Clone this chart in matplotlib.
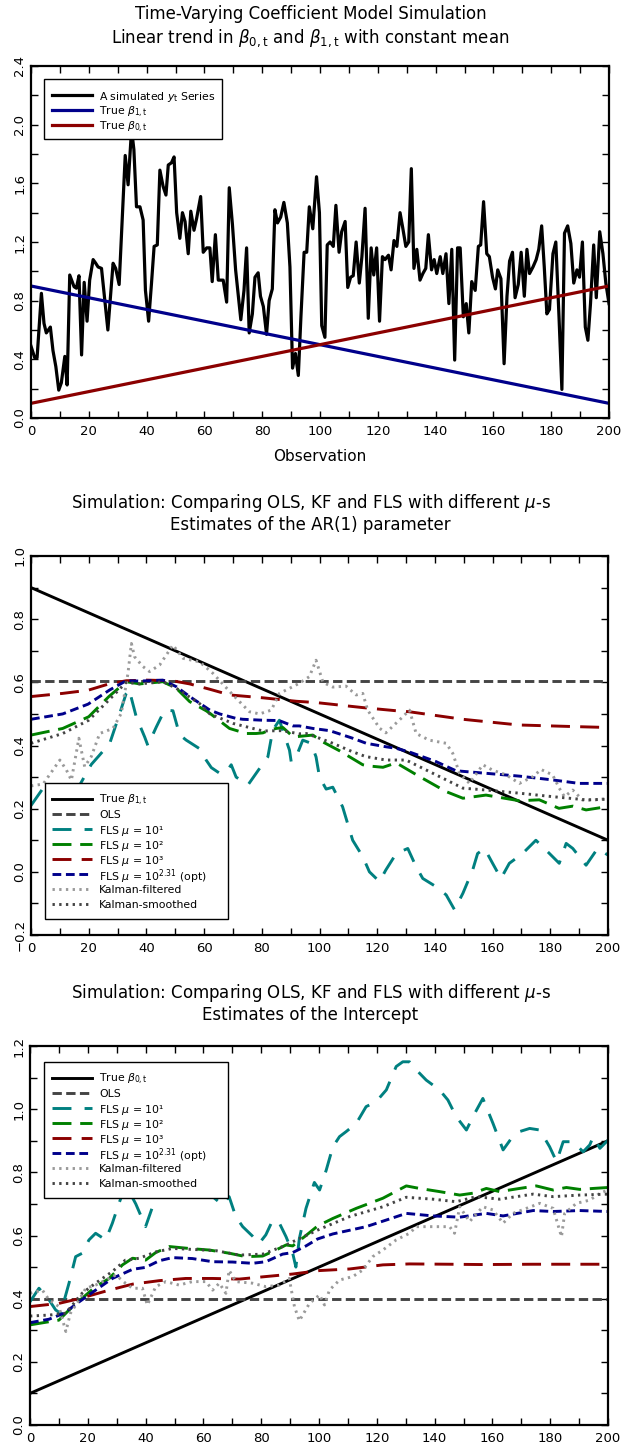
import matplotlib
matplotlib.use("Agg")
import matplotlib.pyplot as plt
from matplotlib.ticker import MultipleLocator
from matplotlib.patches import Rectangle
from matplotlib.lines import Line2D

# ---- panel 1: simulated series and true coefficients ----
yt_obs = [0, 1.3, 2.1, 3.6, 4.5, 5.3, 6.7, 7.6, 8.6, 9.6, 10.5, 11.7, 12.5, 13.4, 14.9, 15.7,
          16.6, 17.5, 18.4, 19.4, 20.3, 21.5, 22.4, 23.2, 24.4, 26.6, 28.4, 29.3, 30.5, 32.6,
          33.6, 34.8, 35.6, 36.5, 37.7, 38.8, 39.6, 40.7, 41.7, 42.6, 43.7, 44.6, 45.7, 46.7,
          47.5, 48.6, 49.5, 50.4, 51.5, 52.4, 53.3, 54.4, 55.3, 56.4, 57.3, 58.7, 59.6, 60.8,
          61.9, 62.7, 63.8, 64.8, 66.5, 67.7, 68.6, 69.7, 70.8, 71.7, 72.6, 73.7, 74.6, 75.5,
          76.6, 77.5, 78.6, 79.4, 80.4, 81.5, 82.4, 83.5, 84.4, 85.3, 86.4, 87.5, 88.7, 89.6,
          90.5, 91.5, 92.5, 93.4, 94.5, 95.4, 96.3, 97.5, 98.8, 99.8, 100.6, 101.7, 102.5,
          103.5, 104.6, 105.5, 106.6, 107.5, 108.7, 109.6, 110.6, 111.5, 112.5, 113.6, 114.5,
          115.6, 116.7, 117.7, 118.6, 119.6, 120.6, 121.6, 122.5, 123.7, 124.6, 125.6, 126.6,
          127.7, 128.6, 129.7, 130.7, 131.6, 132.5, 133.5, 134.6, 135.6, 136.6, 137.5, 138.6,
          139.5, 140.4, 141.6, 142.5, 143.6, 144.6, 145.6, 146.6, 147.6, 148.5, 149.6, 150.6,
          151.5, 152.5, 153.7, 154.8, 155.6, 156.6, 157.7, 158.6, 159.7, 160.7, 161.5, 162.6,
          163.7, 164.7, 165.6, 166.6, 167.5, 168.6, 169.6, 170.7, 171.6, 172.5, 173.7, 174.8,
          175.7, 176.7, 177.6, 178.5, 179.4, 180.6, 181.6, 182.7, 183.7, 184.6, 185.7, 186.8,
          187.8, 188.9, 189.8, 190.8, 191.8, 192.7, 193.6, 194.7, 195.6, 196.8, 197.9, 198.9, 200]
yt_val = [0.49, 0.41, 0.41, 0.85, 0.645, 0.58, 0.62, 0.46, 0.35, 0.19, 0.24, 0.42, 0.225, 0.975,
          0.895, 0.885, 0.97, 0.43, 0.925, 0.66, 0.94, 1.08, 1.055, 1.03, 1.02, 0.60, 1.055,
          1.02, 0.91, 1.79, 1.59, 1.97, 1.83, 1.44, 1.44, 1.35, 0.87, 0.66, 0.92, 1.17, 1.18,
          1.69, 1.58, 1.52, 1.725, 1.74, 1.78, 1.40, 1.225, 1.40, 1.34, 1.12, 1.41, 1.28, 1.36,
          1.51, 1.13, 1.16, 1.16, 0.93, 1.25, 0.94, 0.94, 0.79, 1.57, 1.32, 1.01, 0.84, 0.67,
          0.87, 1.16, 0.58, 0.71, 0.96, 0.99, 0.83, 0.76, 0.57, 0.80, 0.88, 1.42, 1.33, 1.37,
          1.47, 1.33, 1.03, 0.34, 0.44, 0.29, 0.69, 1.13, 1.13, 1.44, 1.29, 1.645, 1.40, 0.63,
          0.55, 1.18, 1.20, 1.17, 1.45, 1.13, 1.27, 1.34, 0.89, 0.96, 0.97, 1.20, 0.92, 1.10,
          1.43, 0.68, 1.16, 0.975, 1.16, 0.66, 1.10, 1.08, 1.11, 1.01, 1.21, 1.17, 1.40, 1.30,
          1.17, 1.20, 1.70, 1.02, 1.15, 0.94, 0.985, 1.02, 1.25, 1.01, 1.08, 0.985, 1.10, 0.985,
          1.12, 0.78, 1.15, 0.395, 1.16, 1.16, 0.69, 0.78, 0.58, 0.93, 0.87, 1.17, 1.18, 1.475,
          1.12, 1.10, 0.96, 0.88, 1.01, 0.95, 0.37, 0.83, 1.07, 1.13, 0.82, 0.91, 1.13, 0.83,
          1.15, 0.985, 1.03, 1.08, 1.15, 1.31, 1.03, 0.71, 0.74, 1.12, 1.20, 0.69, 0.195, 1.26,
          1.31, 1.19, 0.92, 1.01, 0.96, 1.20, 0.62, 0.53, 0.78, 1.18, 0.82, 1.27, 1.12, 0.92, 0.78]
trend_obs = [0, 200]
beta1_true = [0.9, 0.1]
beta0_true = [0.1, 0.9]

# ---- panel 2: AR(1) parameter estimates ----
ar_ols = 0.605
ar_f1_obs = [0, 4.2, 8, 12, 15, 17.2, 20.9, 23.8, 27.3, 30.2, 33, 34, 36.5, 39.4, 40.5, 43.4, 46.3,
             49.2, 51.5, 53.8, 55, 58.4, 60.7, 62.5, 65.4, 67.7, 69.4, 71.1, 75.2, 79.2, 82.1,
             83.8, 86.1, 89.6, 90.2, 91.9, 94.2, 97.1, 98.8, 100, 102.3, 104.6, 108, 111.5, 115,
             117.3, 120.8, 123, 126.6, 130.6, 133.5, 135.8, 140.4, 143.9, 146.8, 149.7, 153.1,
             154.8, 157.2, 160, 162.9, 165.8, 170.4, 175, 178.5, 183.1, 185.5, 187.8, 192.4,
             196.4, 200]
ar_f1_val = [0.21, 0.265, 0.23, 0.21, 0.24, 0.28, 0.34, 0.37, 0.407, 0.486, 0.565, 0.578, 0.49,
             0.427, 0.40, 0.458, 0.512, 0.51, 0.434, 0.417, 0.41, 0.39, 0.354, 0.33, 0.312, 0.317,
             0.339, 0.30, 0.275, 0.327, 0.364, 0.449, 0.48, 0.385, 0.348, 0.364, 0.417, 0.407,
             0.364, 0.30, 0.262, 0.268, 0.206, 0.10, 0.048, 0.0, -0.031, 0.006, 0.058, 0.074,
             0.016, -0.021, -0.047, -0.073, -0.12, -0.068, 0.006, 0.058, 0.074, 0.027, -0.021,
             0.027, 0.058, 0.10, 0.069, 0.027, 0.09, 0.074, 0.021, 0.074, 0.053]
ar_f2_obs = [0, 11, 20, 27, 33, 37.7, 45.7, 50.4, 55, 60.7, 62, 68.8, 74.6, 78, 80.4, 82.7, 85,
             87.3, 90.8, 92, 97.7, 101, 107, 115, 117.3, 122, 126.6, 134.6, 143.9, 149.7, 157.7,
             169.3, 176.2, 183, 187.8, 192.4, 198, 200]
ar_f2_val = [0.433, 0.454, 0.491, 0.555, 0.602, 0.595, 0.602, 0.581, 0.539, 0.51, 0.502, 0.454,
             0.438, 0.438, 0.44, 0.449, 0.454, 0.457, 0.428, 0.428, 0.433, 0.412, 0.383, 0.339,
             0.335, 0.331, 0.345, 0.302, 0.254, 0.233, 0.243, 0.225, 0.228, 0.201, 0.208, 0.196,
             0.204, 0.205]
ar_f3_obs = [0, 11, 19.8, 27, 33, 40, 49, 55, 62, 69, 80.4, 92, 98.8, 115, 126.6, 131, 149.7,
             169, 187.8, 200]
ar_f3_val = [0.555, 0.565, 0.575, 0.595, 0.605, 0.607, 0.605, 0.595, 0.578, 0.56, 0.551, 0.54,
             0.536, 0.52, 0.51, 0.507, 0.483, 0.465, 0.46, 0.457]
ar_opt_obs = [0, 11, 19.8, 27.3, 33, 37.7, 45.7, 50.4, 55, 62, 65.4, 71, 73.4, 80.4, 86, 90.8,
              93, 97.7, 103.5, 111.5, 116.2, 123, 126.6, 131, 140.4, 147.3, 157.7, 169.3, 180.8,
              190, 200]
ar_opt_val = [0.483, 0.50, 0.531, 0.576, 0.605, 0.604, 0.607, 0.586, 0.555, 0.512, 0.5, 0.486,
              0.483, 0.48, 0.479, 0.462, 0.462, 0.454, 0.447, 0.423, 0.407, 0.396, 0.391, 0.38,
              0.349, 0.32, 0.312, 0.303, 0.291, 0.28, 0.28]
ar_kf_obs = [0, 4.2, 10, 12.3, 14, 16.6, 18.6, 20.9, 23.8, 28.4, 31.3, 33.6, 34.8, 35.9, 38.8,
             41.1, 44.6, 49.2, 52.7, 58.4, 63, 70, 75.7, 79.2, 83.3, 86.1, 89.6, 93, 96.5, 98.8,
             101.2, 104.6, 109.2, 112.7, 115, 116.7, 120.8, 123, 128.3, 131.2, 133.5, 138, 143.9,
             146.2, 148.5, 152, 156.6, 160, 164.7, 169.3, 173.9, 176.8, 180.8, 183.1, 184.9,
             187.8, 191.2, 194.7, 200]
ar_kf_val = [0.272, 0.278, 0.354, 0.322, 0.29, 0.423, 0.333, 0.365, 0.438, 0.454, 0.502, 0.628,
             0.723, 0.681, 0.65, 0.634, 0.655, 0.718, 0.676, 0.665, 0.629, 0.56, 0.507, 0.50,
             0.512, 0.565, 0.581, 0.597, 0.618, 0.67, 0.6, 0.585, 0.588, 0.56, 0.565, 0.512,
             0.455, 0.44, 0.486, 0.512, 0.438, 0.417, 0.407, 0.375, 0.312, 0.28, 0.339, 0.322,
             0.307, 0.28, 0.301, 0.324, 0.307, 0.265, 0.238, 0.259, 0.227, 0.227, 0.232]
ar_ks_obs = [0, 11, 20, 27, 33, 37.7, 45.7, 50.4, 58.4, 62, 70, 80.4, 87, 93, 95.4, 100, 104.6,
             111.5, 116, 123, 130, 140.4, 149.7, 157.7, 169.3, 180.8, 192.4, 200]
ar_ks_val = [0.407, 0.438, 0.48, 0.544, 0.60, 0.595, 0.602, 0.581, 0.533, 0.50, 0.47, 0.446,
             0.447, 0.437, 0.438, 0.423, 0.407, 0.38, 0.365, 0.354, 0.354, 0.307, 0.265, 0.259,
             0.249, 0.238, 0.228, 0.23]

# ---- panel 3: intercept estimates ----
ic_ols = 0.40
ic_f1_obs = [0, 3.1, 6.6, 8.9, 10.6, 13.5, 15.8, 18.1, 20.4, 22.7, 26.2, 28.5, 30.8, 33.1, 36.6,
             40, 42.4, 44.7, 47, 52, 58, 63.2, 66.6, 68.9, 71.2, 73.6, 77, 79.3, 81.6, 84, 86.3,
             88.6, 90.9, 92, 93.2, 95.5, 98.4, 100.2, 102.5, 104.8, 107.1, 109.4, 112.9, 116.3,
             119.8, 123.3, 126.7, 129, 131.3, 133.7, 137.1, 141.7, 144.6, 147.5, 151, 153.9,
             156.7, 160.2, 163.7, 166.6, 169.4, 172.9, 176.4, 179.8, 182.2, 184.5, 187.9, 191.4,
             193.7, 194.9, 197.2, 200]
ic_f1_val = [0.39, 0.433, 0.396, 0.364, 0.354, 0.449, 0.533, 0.544, 0.586, 0.607, 0.586, 0.639,
             0.702, 0.76, 0.70, 0.628, 0.691, 0.744, 0.78, 0.80, 0.76, 0.723, 0.697, 0.723, 0.66,
             0.628, 0.598, 0.575, 0.602, 0.649, 0.639, 0.596, 0.544, 0.50, 0.59, 0.686, 0.768,
             0.744, 0.807, 0.881, 0.913, 0.929, 0.955, 1.008, 1.024, 1.061, 1.135, 1.15, 1.15,
             1.124, 1.092, 1.061, 1.029, 0.976, 0.934, 0.987, 1.034, 0.955, 0.871, 0.908, 0.929,
             0.939, 0.934, 0.881, 0.834, 0.897, 0.897, 0.865, 0.887, 0.913, 0.876, 0.902]
ic_f2_obs = [0, 6.6, 10, 13.5, 18, 22.7, 27.4, 32, 35.5, 40, 43.5, 48.2, 55, 62, 68.9, 74.7, 80.5,
             85.1, 88.6, 90.9, 95.5, 99.5, 104.8, 112.9, 122.1, 130.2, 134.8, 141.7, 148.7,
             153.3, 157.9, 162.5, 169.4, 175.2, 181, 185.6, 190.2, 194.9, 200]
ic_f2_val = [0.317, 0.327, 0.332, 0.364, 0.401, 0.438, 0.464, 0.507, 0.528, 0.522, 0.546, 0.565,
             0.559, 0.554, 0.544, 0.533, 0.535, 0.554, 0.57, 0.567, 0.6, 0.63, 0.654, 0.686,
             0.718, 0.757, 0.749, 0.739, 0.728, 0.734, 0.749, 0.739, 0.749, 0.757, 0.744, 0.752,
             0.746, 0.749, 0.752]
ic_f3_obs = [0, 10, 17, 27.4, 35.5, 44.7, 53.9, 63.2, 72.4, 81.6, 90.9, 100.2, 110.6, 122.1,
             131.3, 145.2, 156.7, 174, 200]
ic_f3_val = [0.375, 0.385, 0.40, 0.427, 0.446, 0.457, 0.464, 0.464, 0.462, 0.47, 0.478, 0.489,
             0.494, 0.507, 0.51, 0.509, 0.508, 0.509, 0.509]
ic_opt_obs = [0, 6.6, 11.8, 17, 22.7, 28.5, 35.5, 40, 44.7, 49.3, 56.2, 63.2, 70.1, 77, 81.6,
              87.4, 90.9, 95.5, 99.5, 104.8, 116.3, 123.3, 130.2, 139.4, 148.7, 157.9, 163.7,
              174.1, 181, 190.2, 200]
ic_opt_val = [0.324, 0.335, 0.354, 0.39, 0.427, 0.464, 0.493, 0.499, 0.52, 0.53, 0.527, 0.517,
              0.516, 0.512, 0.517, 0.541, 0.546, 0.567, 0.589, 0.605, 0.628, 0.649, 0.67, 0.662,
              0.658, 0.67, 0.662, 0.679, 0.676, 0.679, 0.676]
ic_kf_obs = [0, 4.3, 6.6, 10, 12.4, 14, 17, 19.3, 22.7, 26.2, 29.7, 33, 35.5, 38.9, 40.6, 43.5,
             47, 51.6, 56.2, 60.9, 63.2, 65.5, 67.8, 68.9, 71.2, 77, 81.6, 86.3, 89.7, 91.5, 93.2,
             96.7, 100.2, 101.9, 103.6, 107.1, 111.7, 115.2, 118.6, 122.1, 126.7, 131.3, 133.7,
             139.4, 145.2, 146.9, 148.7, 152.1, 156.7, 160.2, 163.7, 167.1, 171.8, 176.4, 181,
             183.9, 185, 189.1, 193.7, 197.2, 200]
ic_kf_val = [0.417, 0.427, 0.396, 0.375, 0.296, 0.354, 0.396, 0.433, 0.443, 0.459, 0.475, 0.449,
             0.433, 0.433, 0.38, 0.438, 0.454, 0.443, 0.454, 0.454, 0.427, 0.449, 0.417, 0.49,
             0.454, 0.449, 0.438, 0.443, 0.464, 0.375, 0.33, 0.385, 0.412, 0.38, 0.427, 0.459,
             0.47, 0.491, 0.533, 0.554, 0.586, 0.607, 0.628, 0.628, 0.628, 0.607, 0.691, 0.644,
             0.691, 0.681, 0.639, 0.67, 0.686, 0.702, 0.686, 0.596, 0.67, 0.702, 0.712, 0.734,
             0.744]
ic_ks_obs = [0, 6.6, 12.4, 18, 22.7, 28.5, 33, 37.8, 43.5, 49.3, 56.2, 64.3, 72.4, 80.5, 87.4,
             93.2, 100.2, 110.6, 122.1, 130.2, 139.4, 147.5, 154.4, 162.5, 174.1, 181, 190.2, 200]
ic_ks_val = [0.345, 0.348, 0.354, 0.417, 0.449, 0.486, 0.522, 0.528, 0.548, 0.559, 0.556, 0.552,
             0.538, 0.541, 0.565, 0.59, 0.62, 0.66, 0.691, 0.721, 0.715, 0.707, 0.723, 0.715,
             0.731, 0.723, 0.728, 0.731]

# colori e stili
C_TEAL = "#008080"
C_GREEN = "#008000"
C_RED = "#8b0000"
C_NAVY = "#00008b"
C_OLS = "#444444"
C_KF = "#9a9a9a"
C_KS = "#444444"
LW = 2.1

STY_TRUE = dict(color='black', lw=LW)
STY_OLS = dict(color=C_OLS, lw=LW, ls=(0, (3.2, 1.5)))
STY_F1 = dict(color=C_TEAL, lw=LW, ls=(0, (6.5, 4.5)))
STY_F2 = dict(color=C_GREEN, lw=LW, ls=(0, (6.5, 3.0)))
STY_F3 = dict(color=C_RED, lw=LW, ls=(0, (6.5, 3.5)))
STY_OPT = dict(color=C_NAVY, lw=LW, ls=(0, (3.0, 1.6)))
STY_KF = dict(color=C_KF, lw=LW, ls=(0, (0.8, 1.5)))
STY_KS = dict(color=C_KS, lw=LW, ls=(0, (0.8, 1.5)))

plt.rcParams['font.family'] = ['DejaVu Sans']
plt.rcParams['mathtext.fontset'] = 'dejavusans'

fig = plt.figure(figsize=(6.21, 14.48), dpi=100)
W, H = 621.0, 1448.0


def make_axes(top_px, bottom_px, left_px=31, right_px=609):
    return fig.add_axes([left_px / W, 1 - bottom_px / H,
                         (right_px - left_px) / W, (bottom_px - top_px) / H])


def style_axes(ax, ymin, ymax, ymaj, ymin_step):
    ax.set_xlim(0, 200)
    ax.set_ylim(ymin, ymax)
    ax.xaxis.set_major_locator(MultipleLocator(20))
    ax.xaxis.set_minor_locator(MultipleLocator(10))
    ax.yaxis.set_major_locator(MultipleLocator(ymaj))
    ax.yaxis.set_minor_locator(MultipleLocator(ymin_step))
    ax.tick_params(which='both', direction='in', top=True, right=True,
                   length=5, width=1, labelsize=9.5, colors='black')
    ax.tick_params(axis='x', pad=5)
    for sp in ax.spines.values():
        sp.set_linewidth(1.6)


def two_line_title(y1_px, y2_px, line1, line2):
    fig.text(0.5, 1 - y1_px / H, line1, ha='center', va='center', fontsize=12)
    fig.text(0.5, 1 - y2_px / H, line2, ha='center', va='center', fontsize=12)


def draw_legend(left, top, right, bottom, entries, pitch=15.1, first=15.5):
    # legenda disegnata a mano: righe a passo costante come nell'originale
    fig.add_artist(Rectangle((left / W, 1 - bottom / H), (right - left) / W,
                             (bottom - top) / H, transform=fig.transFigure,
                             facecolor='white', edgecolor='black', lw=1.0, zorder=5))
    for i, (style, label) in enumerate(entries):
        y = 1 - (top + first + pitch * i) / H
        fig.add_artist(Line2D([52 / W, 92 / W], [y, y], transform=fig.transFigure,
                              zorder=6, **style))
        fig.text(99 / W, y, label, ha='left', va='center_baseline', fontsize=7.8, zorder=7)


# ---- pannello 1 ----
ax1 = make_axes(66, 418)
ax1.plot(yt_obs, yt_val, color='black', lw=2.3)
ax1.plot(trend_obs, beta1_true, color=C_NAVY, lw=2.3)
ax1.plot(trend_obs, beta0_true, color=C_RED, lw=2.3)
style_axes(ax1, 0.0, 2.4, 0.4, 0.2)
ax1.set_yticks([0.0, 0.4, 0.8, 1.2, 1.6, 2.0, 2.4])
ax1.set_yticklabels(['0.0', '0.4', '0.8', '1.2', '1.6', '2.0', '2.4'], rotation=90, va='center')
ax1.set_xlabel('Observation', fontsize=11, labelpad=8)
draw_legend(44, 79, 222, 139, [
    (dict(color='black', lw=2.3), r'A simulated $y_{\rm t}$ Series'),
    (dict(color=C_NAVY, lw=2.3), r'True $\beta_{\rm 1,t}$'),
    (dict(color=C_RED, lw=2.3), r'True $\beta_{\rm 0,t}$')])
two_line_title(14, 38, 'Time-Varying Coefficient Model Simulation',
               r'Linear trend in $\beta_{\rm 0,t}$ and $\beta_{\rm 1,t}$ with constant mean')


def estimate_panel(ax, true_vals, true_label, ols, f1, f2, f3, opt, kf, ks):
    ax.plot(trend_obs, true_vals, **STY_TRUE)
    ax.plot(trend_obs, [ols, ols], **STY_OLS)
    ax.plot(f1[0], f1[1], **STY_F1)
    ax.plot(f2[0], f2[1], **STY_F2)
    ax.plot(f3[0], f3[1], **STY_F3)
    ax.plot(opt[0], opt[1], **STY_OPT)
    ax.plot(kf[0], kf[1], **STY_KF)
    ax.plot(ks[0], ks[1], **STY_KS)
    return [(STY_TRUE, true_label), (STY_OLS, 'OLS'),
            (STY_F1, 'FLS $\\mu$ = 10\u00b9'), (STY_F2, 'FLS $\\mu$ = 10\u00b2'),
            (STY_F3, 'FLS $\\mu$ = 10\u00b3'), (STY_OPT, r'FLS $\mu$ = 10$^{2.31}$ (opt)'),
            (STY_KF, 'Kalman-filtered'), (STY_KS, 'Kalman-smoothed')]


# ---- pannello 2 ----
ax2 = make_axes(556, 935, right_px=608)
entries = estimate_panel(ax2, beta1_true, r'True $\beta_{\rm 1,t}$', ar_ols,
                         (ar_f1_obs, ar_f1_val), (ar_f2_obs, ar_f2_val), (ar_f3_obs, ar_f3_val),
                         (ar_opt_obs, ar_opt_val), (ar_kf_obs, ar_kf_val),
                         (ar_ks_obs, ar_ks_val))
style_axes(ax2, -0.2, 1.0, 0.2, 0.1)
ax2.set_yticks([-0.2, 0.0, 0.2, 0.4, 0.6, 0.8, 1.0])
ax2.set_yticklabels(['\u22120.2', '0.0', '0.2', '0.4', '0.6', '0.8', '1.0'],
                    rotation=90, va='center')
draw_legend(45, 783, 228, 919, entries)
two_line_title(503, 525, r'Simulation: Comparing OLS, KF and FLS with different $\mu$-s',
               'Estimates of the AR(1) parameter')

# ---- pannello 3 ----
ax3 = make_axes(1046, 1425, left_px=30, right_px=608)
entries = estimate_panel(ax3, beta0_true, r'True $\beta_{\rm 0,t}$', ic_ols,
                         (ic_f1_obs, ic_f1_val), (ic_f2_obs, ic_f2_val), (ic_f3_obs, ic_f3_val),
                         (ic_opt_obs, ic_opt_val), (ic_kf_obs, ic_kf_val),
                         (ic_ks_obs, ic_ks_val))
style_axes(ax3, 0.0, 1.2, 0.2, 0.1)
ax3.set_yticks([0.0, 0.2, 0.4, 0.6, 0.8, 1.0, 1.2])
ax3.set_yticklabels(['0.0', '0.2', '0.4', '0.6', '0.8', '1.0', '1.2'], rotation=90, va='center')
draw_legend(44, 1062, 228, 1198, entries)
two_line_title(993, 1015, r'Simulation: Comparing OLS, KF and FLS with different $\mu$-s',
               'Estimates of the Intercept')

fig.savefig('out.png', dpi=100)
